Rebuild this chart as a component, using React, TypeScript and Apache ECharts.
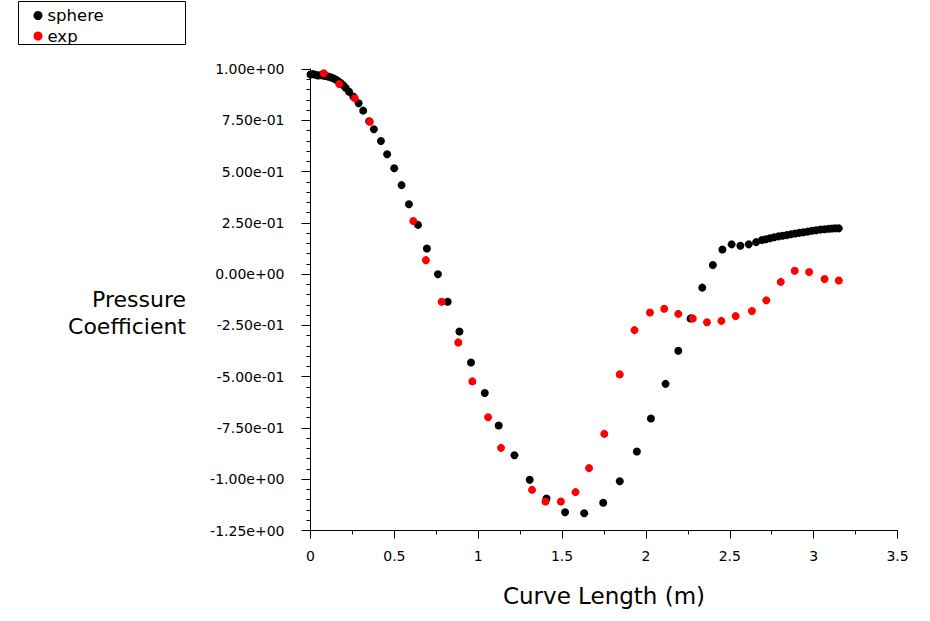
import React, { useEffect, useRef } from "react";
import * as echarts from "echarts";

const sphereData: [number, number][] = [
  [0.0, 0.973], [0.015, 0.975], [0.03, 0.972], [0.045, 0.968], [0.06, 0.97],
  [0.075, 0.968], [0.09, 0.966], [0.105, 0.963], [0.12, 0.96], [0.135, 0.955],
  [0.15, 0.949], [0.165, 0.941], [0.18, 0.932], [0.195, 0.921], [0.21, 0.908],
  [0.23, 0.889], [0.255, 0.866], [0.287, 0.833], [0.314, 0.797], [0.35, 0.745],
  [0.378, 0.706], [0.42, 0.649], [0.457, 0.584], [0.499, 0.516], [0.543, 0.434],
  [0.587, 0.341], [0.641, 0.24], [0.694, 0.125], [0.76, -0.001], [0.818, -0.135],
  [0.888, -0.28], [0.957, -0.431], [1.039, -0.58], [1.122, -0.738], [1.216, -0.883],
  [1.307, -1.003], [1.407, -1.094], [1.518, -1.161], [1.632, -1.166], [1.745, -1.115],
  [1.844, -1.01], [1.946, -0.865], [2.03, -0.704], [2.117, -0.535], [2.193, -0.374],
  [2.266, -0.216], [2.336, -0.066], [2.399, 0.044], [2.456, 0.12], [2.511, 0.145],
  [2.563, 0.138], [2.613, 0.145], [2.657, 0.156], [2.692, 0.166], [2.715, 0.17],
  [2.74, 0.175], [2.765, 0.18], [2.79, 0.184], [2.815, 0.187], [2.84, 0.19],
  [2.865, 0.194], [2.89, 0.198], [2.915, 0.201], [2.94, 0.204], [2.965, 0.207],
  [2.99, 0.211], [3.015, 0.214], [3.04, 0.217], [3.065, 0.219], [3.09, 0.221],
  [3.11, 0.222], [3.13, 0.223], [3.15, 0.223],
];

const expData: [number, number][] = [
  [0.01, 1.003], [0.079, 0.979], [0.171, 0.927], [0.264, 0.857], [0.354, 0.743],
  [0.613, 0.259], [0.688, 0.068], [0.782, -0.135], [0.881, -0.333], [0.965, -0.523],
  [1.059, -0.698], [1.136, -0.847], [1.321, -1.052], [1.401, -1.109], [1.493, -1.109],
  [1.58, -1.063], [1.661, -0.946], [1.752, -0.779], [1.844, -0.489], [1.932, -0.273],
  [2.024, -0.187], [2.109, -0.169], [2.193, -0.194], [2.279, -0.216], [2.364, -0.235],
  [2.45, -0.228], [2.535, -0.205], [2.632, -0.18], [2.718, -0.128], [2.804, -0.038],
  [2.887, 0.016], [2.973, 0.01], [3.065, -0.024], [3.15, -0.031],
];

const seriesNames = ["sphere", "exp"];
const seriesColors = ["#000000", "#ff0000"];
const xTitle = "Curve Length (m)";
const yTitle = "Pressure\nCoefficient";

const FONT = "DejaVu Sans";

function fmtExp(v: number): string {
  if (Math.abs(v) < 1e-9) return "0.00e+00";
  const s = v.toExponential(2);
  const [m, e] = s.split("e");
  const sign = e[0];
  const d = e.slice(1).padStart(2, "0");
  return m + "e" + sign + d;
}

export default function App() {
  const ref = useRef<HTMLDivElement>(null);
  useEffect(() => {
    if (!ref.current) return;
    const chart = echarts.init(ref.current, undefined, { renderer: "svg" });
    chart.setOption({
      animation: false,
      backgroundColor: "#ffffff",
      textStyle: { fontFamily: FONT },
      grid: { left: 310.5, right: 32.5, top: 69, bottom: 90.5, containLabel: false },
      legend: {
        orient: "vertical",
        left: 33.5,
        top: 7,
        itemWidth: 9,
        itemHeight: 9,
        itemGap: 3.5,
        icon: "circle",
        padding: 0,
        data: seriesNames,
        textStyle: { fontFamily: FONT, fontSize: 16.5, color: "#000", lineHeight: 16 },
      },
      graphic: [
        {
          type: "rect",
          shape: { x: 18.5, y: 1.5, width: 167, height: 43 },
          style: { fill: "none", stroke: "#000", lineWidth: 1 },
          z: 10,
        },
        {
          type: "text",
          x: 186,
          y: 286,
          style: {
            text: yTitle,
            fontFamily: FONT,
            fontSize: 22,
            lineHeight: 27,
            fill: "#000",
            align: "right",
            verticalAlign: "top",
          },
        },
      ],
      xAxis: {
        type: "value",
        min: 0,
        max: 3.5,
        interval: 0.5,
        name: xTitle,
        nameLocation: "middle",
        nameGap: 54,
        nameTextStyle: { fontFamily: FONT, fontSize: 23, color: "#000" },
        axisLine: { onZero: false, lineStyle: { color: "#000", width: 1 } },
        axisTick: { show: true, inside: false, length: 8, lineStyle: { color: "#000" } },
        minorTick: { show: true, splitNumber: 2, length: 4, lineStyle: { color: "#000" } },
        splitLine: { show: false },
        axisLabel: { color: "#000", fontFamily: FONT, fontSize: 14, margin: 18 },
      },
      yAxis: {
        type: "value",
        min: -1.25,
        max: 1,
        interval: 0.25,
        axisLine: { onZero: false, lineStyle: { color: "#000", width: 1 } },
        axisTick: { show: true, inside: false, length: 9, lineStyle: { color: "#000" } },
        minorTick: { show: true, splitNumber: 5, length: 4, lineStyle: { color: "#000" } },
        splitLine: { show: false },
        axisLabel: {
          color: "#000",
          fontFamily: FONT,
          fontSize: 14,
          margin: 26,
          formatter: (v: number) => fmtExp(v),
        },
      },
      series: [
        {
          name: seriesNames[0],
          type: "scatter",
          data: sphereData,
          symbol: "circle",
          symbolSize: 8,
          itemStyle: { color: seriesColors[0], opacity: 1 },
          z: 2,
        },
        {
          name: seriesNames[1],
          type: "scatter",
          data: expData,
          symbol: "circle",
          symbolSize: 8,
          itemStyle: { color: seriesColors[1], opacity: 1 },
          z: 3,
        },
      ],
    });
    return () => chart.dispose();
  }, []);
  return (
    <div
      ref={ref}
      style={{ position: "absolute", left: 0, top: 0, width: 930, height: 621, background: "#fff" }}
    />
  );
}
